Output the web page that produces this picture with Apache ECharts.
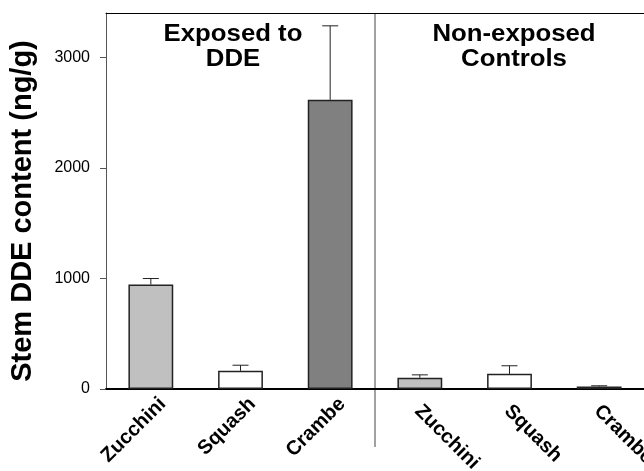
<!DOCTYPE html>
<html>
<head>
<meta charset="utf-8">
<script src="https://cdn.jsdelivr.net/npm/echarts@6/dist/echarts.min.js"></script>
<style>
  html, body { margin: 0; padding: 0; background: #fff; }
  #chart { width: 644px; height: 471px; }
</style>
</head>
<body>
<div id="chart"></div>
<script>
// plants, first three exposed to DDE, last three controls
const categories = ['Zucchini', 'Squash', 'Crambe', 'Zucchini', 'Squash', 'Crambe'];
const means = [944, 164, 2615, 101, 137, 22];
const errors = [55, 51, 669, 27, 73, 7];
const barColors = ['#c0c0c0', '#ffffff', '#808080', '#c0c0c0', '#ffffff', '#808080'];
const groupTitles = ['Exposed to\nDDE', 'Non-exposed\nControls'];
const yTicks = [0, 1000, 2000, 3000];
const yName = 'Stem DDE content (ng/g)';

const FONT = "'Liberation Sans', Arial, sans-serif";

var chart = echarts.init(document.getElementById('chart'));

chart.setOption({
    animation: false,
    grid: { left: 106, right: 0, top: 13, bottom: 82 },
    xAxis: [
        {
            type: 'category',
            data: categories,
            axisLine: { lineStyle: { color: '#000', width: 2 } },
            axisTick: { show: false },
            axisLabel: { show: false }
        },
        {
            type: 'category',
            position: 'top',
            data: categories,
            axisLine: { lineStyle: { color: '#000', width: 1 } },
            axisTick: { show: false },
            axisLabel: { show: false }
        }
    ],
    yAxis: {
        type: 'value',
        min: 0,
        max: 3400,
        interval: 1000,
        splitLine: { show: false },
        axisLine: { show: true, lineStyle: { color: '#555', width: 1 } },
        axisTick: { show: true, length: 6, customValues: yTicks, lineStyle: { color: '#555' } },
        axisLabel: {
            customValues: yTicks,
            formatter: v => String(v),
            margin: 16, color: '#000', fontSize: 16, fontFamily: FONT
        }
    },
    series: [
        {
            type: 'bar',
            barWidth: '50%',
            data: means.map((v, i) => ({
                value: v,
                itemStyle: { color: barColors[i], borderColor: '#222', borderWidth: 1.5 }
            }))
        },
        {
            // upper error bars
            type: 'custom',
            z: 5,
            data: means.map((v, i) => [i, v, errors[i]]),
            renderItem: function(params, api) {
                var base = api.coord([api.value(0), api.value(1)]);
                var top = api.coord([api.value(0), api.value(1) + api.value(2)]);
                var half = 8;
                return {
                    type: 'group',
                    children: [
                        { type: 'line', shape: { x1: base[0], y1: base[1], x2: top[0], y2: top[1] },
                          style: { stroke: '#222', lineWidth: 1 } },
                        { type: 'line', shape: { x1: top[0] - half, y1: top[1], x2: top[0] + half, y2: top[1] },
                          style: { stroke: '#222', lineWidth: 1 } }
                    ]
                };
            }
        },
        {
            // slanted category labels, the two groups lean opposite ways
            type: 'custom',
            clip: false,
            silent: true,
            data: categories.map((c, i) => [i, 0]),
            renderItem: function(params, api) {
                var i = api.value(0);
                var p = api.coord([i, 0]);
                var left = i < 3;
                return {
                    type: 'text',
                    x: p[0] + (left ? 12 : -2),
                    y: p[1] + (left ? 12 : 19),
                    rotation: left ? Math.PI / 4 : -Math.PI / 4,
                    style: {
                        text: categories[i],
                        font: 'bold 20px ' + FONT,
                        fill: '#000',
                        align: left ? 'right' : 'left',
                        verticalAlign: 'middle'
                    }
                };
            }
        }
    ]
});

// divider between the two groups, and the text annotations
var p2 = chart.convertToPixel({ xAxisIndex: 0 }, 2);
var p3 = chart.convertToPixel({ xAxisIndex: 0 }, 3);
var divX = (p2 + p3) / 2;

chart.setOption({
    graphic: [
        { type: 'line', shape: { x1: divX, y1: 13, x2: divX, y2: 447 }, style: { stroke: '#444', lineWidth: 1 } },
        { type: 'text', x: 233, y: 22, scaleX: 1.12,
          style: { text: groupTitles[0], font: 'bold 23px ' + FONT, lineHeight: 25, align: 'center', verticalAlign: 'top', fill: '#000' } },
        { type: 'text', x: 514, y: 22, scaleX: 1.12,
          style: { text: groupTitles[1], font: 'bold 23px ' + FONT, lineHeight: 25, align: 'center', verticalAlign: 'top', fill: '#000' } },
        { type: 'text', x: 23, y: 211, rotation: Math.PI / 2,
          style: { text: yName, font: 'bold 29px ' + FONT, align: 'center', verticalAlign: 'middle', fill: '#000' } }
    ]
});
</script>
</body>
</html>
